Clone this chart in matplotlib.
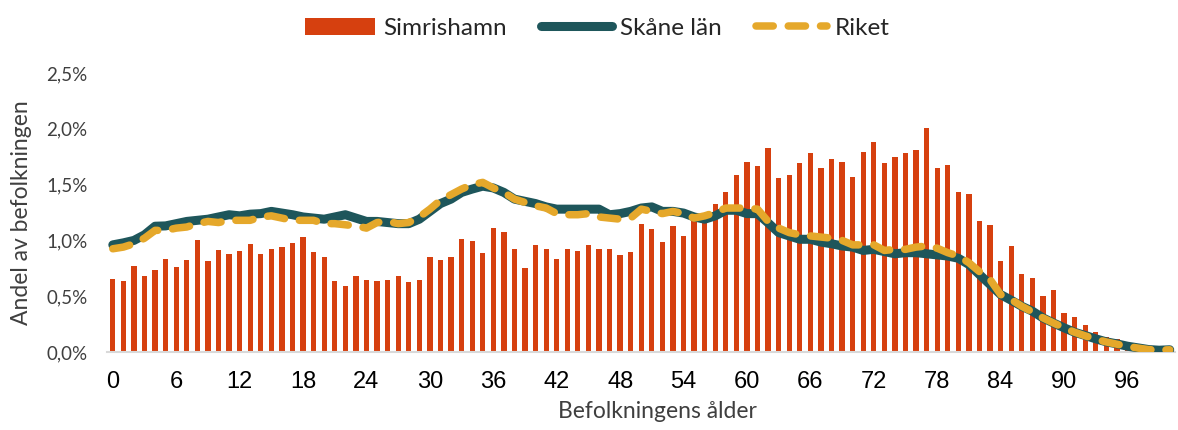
import numpy as np
import matplotlib.pyplot as plt
from matplotlib.ticker import FuncFormatter

ages = list(range(0, 101))

simrishamn = [0.656, 0.634, 0.775, 0.685, 0.739, 0.829, 0.760, 0.823, 1.002, 0.817,
              0.912, 0.876, 0.907, 0.972, 0.874, 0.927, 0.945, 0.978, 1.032, 0.894,
              0.847, 0.634, 0.587, 0.679, 0.643, 0.634, 0.641, 0.685, 0.623, 0.641,
              0.853, 0.823, 0.847, 1.017, 0.996, 0.891, 1.113, 1.077, 0.927, 0.757,
              0.957, 0.921, 0.832, 0.921, 0.909, 0.963, 0.921, 0.921, 0.865, 0.898,
              1.149, 1.098, 0.984, 1.125, 1.041, 1.180, 1.190, 1.330, 1.430, 1.588,
              1.700, 1.668, 1.830, 1.557, 1.588, 1.695, 1.781, 1.653, 1.731, 1.704,
              1.570, 1.794, 1.883, 1.692, 1.749, 1.785, 1.812, 2.009, 1.650, 1.674,
              1.430, 1.412, 1.172, 1.136, 0.811, 0.952, 0.697, 0.665, 0.506, 0.554,
              0.345, 0.315, 0.244, 0.177, 0.130, 0.115, 0.060, 0.040, 0.020, 0.010,
              0.010]

skane = [0.960, 0.978, 1.000, 1.050, 1.127, 1.130, 1.150, 1.170, 1.180, 1.190,
         1.210, 1.230, 1.220, 1.235, 1.240, 1.260, 1.245, 1.230, 1.210, 1.200,
         1.190, 1.210, 1.230, 1.200, 1.170, 1.170, 1.160, 1.150, 1.150, 1.190,
         1.260, 1.330, 1.370, 1.430, 1.460, 1.486, 1.470, 1.430, 1.370, 1.350,
         1.330, 1.300, 1.280, 1.280, 1.280, 1.280, 1.280, 1.230, 1.240, 1.260,
         1.290, 1.300, 1.260, 1.260, 1.245, 1.210, 1.190, 1.220, 1.270, 1.270,
         1.240, 1.240, 1.157, 1.070, 1.040, 1.010, 1.010, 0.985, 0.970, 0.950,
         0.940, 0.910, 0.920, 0.900, 0.880, 0.890, 0.890, 0.880, 0.870, 0.860,
         0.840, 0.784, 0.694, 0.605, 0.515, 0.464, 0.410, 0.366, 0.306, 0.260,
         0.217, 0.177, 0.148, 0.118, 0.091, 0.073, 0.052, 0.037, 0.022, 0.016,
         0.020]

riket = [0.925, 0.940, 0.970, 1.020, 1.090, 1.090, 1.110, 1.120, 1.150, 1.170,
         1.160, 1.180, 1.180, 1.180, 1.210, 1.220, 1.200, 1.180, 1.180, 1.180,
         1.150, 1.150, 1.140, 1.130, 1.110, 1.160, 1.170, 1.150, 1.160, 1.210,
         1.280, 1.360, 1.410, 1.460, 1.500, 1.520, 1.470, 1.430, 1.370, 1.340,
         1.310, 1.290, 1.240, 1.230, 1.230, 1.240, 1.210, 1.200, 1.190, 1.200,
         1.280, 1.260, 1.240, 1.260, 1.240, 1.200, 1.220, 1.250, 1.290, 1.290,
         1.290, 1.280, 1.170, 1.110, 1.070, 1.050, 1.040, 1.030, 1.020, 1.000,
         0.960, 0.960, 0.960, 0.910, 0.920, 0.920, 0.940, 0.950, 0.930, 0.890,
         0.860, 0.800, 0.720, 0.650, 0.515, 0.470, 0.410, 0.360, 0.306, 0.260,
         0.217, 0.177, 0.145, 0.115, 0.090, 0.070, 0.050, 0.035, 0.022, 0.016,
         0.020]

xticks = list(range(0, 97, 6))

red = '#D6400F'
teal = '#1E565B'
gold = '#E5A82B'
thin = ['Lato', 'DejaVu Sans']
grey = '#3F3F3F'

fig = plt.figure(figsize=(11.78, 4.30), dpi=100)
ax = fig.add_axes([107 / 1178, 1 - 352 / 430, (1175 - 107) / 1178, (352 - 73) / 430])

x = np.array(ages)
bars = ax.bar(x, simrishamn, width=0.5, color=red, label='Simrishamn', zorder=2)
l1, = ax.plot(x, skane, color=teal, lw=6.5, solid_capstyle='round', solid_joinstyle='round',
              label='Skåne län', zorder=3)
l2, = ax.plot(x, riket, color=gold, lw=5.4, dashes=(2.3, 2.0), dash_capstyle='round',
              dash_joinstyle='round', label='Riket', zorder=4)

ax.set_xlim(-0.55, 100.5)
ax.set_ylim(0, 2.5)
ax.set_yticks(np.arange(0, 2.51, 0.5))
ax.yaxis.set_major_formatter(FuncFormatter(lambda v, p: f'{v:.1f}%'.replace('.', ',')))
ax.set_xticks(xticks)
ax.set_xticklabels([str(t) for t in xticks], family='Liberation Sans', fontsize=17, color='black')
for lab in ax.get_yticklabels():
    lab.set_family(thin)
    lab.set_fontsize(13.5)
    lab.set_color(grey)
ax.tick_params(axis='x', length=0, pad=14)
ax.tick_params(axis='y', length=0, pad=14)

for s in ['top', 'right', 'left']:
    ax.spines[s].set_visible(False)
ax.spines['bottom'].set_color('#D9D9D9')
ax.spines['bottom'].set_linewidth(1.5)

ax.set_xlabel('Befolkningens ålder', family=thin, fontsize=16.5, color=grey)
ax.xaxis.set_label_coords(0.515, -0.175)
ax.set_ylabel('Andel av befolkningen', family=thin, fontsize=16.5, color=grey, labelpad=10)

leg = fig.legend([bars, l1, l2], ['Simrishamn', 'Skåne län', 'Riket'],
                 loc='upper center', bbox_to_anchor=(0.507, 1.01), ncol=3, frameon=False,
                 prop={'family': thin, 'size': 17.5},
                 handlelength=2.9, handletextpad=0.35, columnspacing=1.4)
for t in leg.get_texts():
    t.set_color('#262626')

plt.savefig('out.png', dpi=100)
